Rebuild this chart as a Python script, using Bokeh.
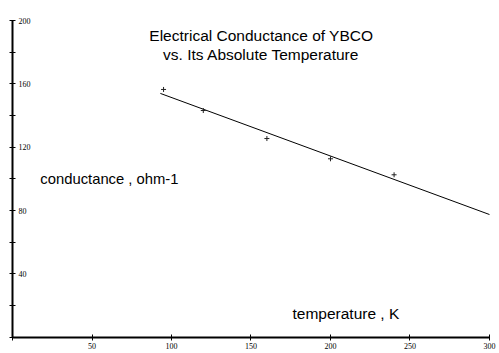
from bokeh.plotting import figure
from bokeh.models import Range1d, LinearAxis, FixedTicker, Label
from bokeh.embed import file_html
from bokeh.resources import INLINE

# data
temperature = [95, 120, 160, 200, 240]
conductance = [156.5, 143.2, 125.5, 112.7, 102.6]
fit_temperature = [93, 300]
fit_conductance = [154.0, 77.5]

x_ticks = [0, 50, 100, 150, 200, 250, 300]
y_ticks = [0, 40, 80, 120, 160, 200]
y_minor = [20, 60, 100, 140, 180]

title_lines = ["Electrical Conductance of YBCO", "vs. Its Absolute Temperature"]
y_label = "conductance , ohm-1"
x_label = "temperature , K"

p = figure(width=499, height=353, output_backend="svg", toolbar_location=None,
           x_axis_type=None, y_axis_type=None, min_border=0,
           x_range=Range1d(-7.55, 306.3), y_range=Range1d(-10.3, 212.7))
p.outline_line_color = None
p.background_fill_color = "white"
p.border_fill_color = "white"

common = dict(axis_line_width=2, axis_line_color="black",
              major_tick_in=3, major_tick_out=3, major_tick_line_color="black",
              minor_tick_in=3, minor_tick_out=3, minor_tick_line_color="black",
              major_label_text_font="Liberation Serif", major_label_text_font_size="8px",
              major_label_text_color="black", major_label_standoff=3)

xaxis = LinearAxis(fixed_location=0, bounds=(0, 300),
                   ticker=FixedTicker(ticks=x_ticks, minor_ticks=[]),
                   major_label_overrides={0: ""}, **common)
p.add_layout(xaxis, "below")

yaxis = LinearAxis(fixed_location=0, bounds=(0, 200),
                   ticker=FixedTicker(ticks=y_ticks, minor_ticks=y_minor),
                   major_label_overrides={0: ""}, **common)
p.add_layout(yaxis, "right")

p.line(fit_temperature, fit_conductance, line_color="black", line_width=1)
p.scatter(temperature, conductance, marker="cross", size=5, line_color="#222222", line_width=1)

font = dict(text_font="Liberation Sans", text_color="black", text_baseline="alphabetic")
p.add_layout(Label(x=156.5, y=190.8, text=title_lines[0], text_align="center",
                   text_font_size="15.5px", **font))
p.add_layout(Label(x=156.5, y=178.9, text=title_lines[1], text_align="center",
                   text_font_size="15.5px", **font))
p.add_layout(Label(x=17.5, y=100.1, text=y_label, text_align="left",
                   text_font_size="14.8px", **font))
p.add_layout(Label(x=176.1, y=15.0, text=x_label, text_align="left",
                   text_font_size="15.5px", **font))

open("out.html", "w").write(file_html(p, INLINE))
